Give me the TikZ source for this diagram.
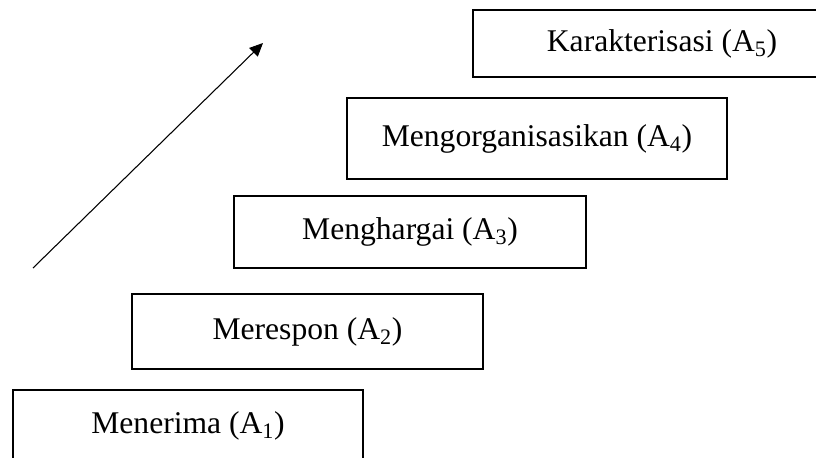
\documentclass[tikz,border=0pt]{standalone}
\usepackage{fontspec}
\setmainfont{Liberation Serif}
\usepackage{tikz}
\usetikzlibrary{arrows.meta, positioning}

\begin{document}
\begin{tikzpicture}[
    x=0.75pt, y=-0.75pt,
    level/.style={draw, line width=1.5pt, inner sep=0pt, align=center,
        font=\fontsize{23.7}{28}\selectfont},
    >={Triangle[length=10pt, width=9pt]}
]

\useasboundingbox (0,0) rectangle (816,457);
\clip (0,0) rectangle (816,457);

\node[level, minimum width=262.5pt, minimum height=54pt] (a1) at (188,426) {Menerima (A\textsubscript{1})};

\node[level, minimum width=263pt, minimum height=56pt] (a2) at (307.5,331.5) {Merespon (A\textsubscript{2})};

\node[level, minimum width=264pt, minimum height=54pt] (a3) at (410,232) {Menghargai (A\textsubscript{3})};

\node[level, minimum width=285pt, minimum height=61pt] (a4) at (537,138.5) {Mengorganisasikan (A\textsubscript{4})};

\node[level, minimum width=283.5pt, minimum height=50pt] (a5) at (662,43.5) {Karakterisasi (A\textsubscript{5})};

\coordinate (low) at (33,268);
\coordinate (high) at (263,43);

\draw[->, line width=0.8pt] (low) -- (high);

\end{tikzpicture}
\end{document}
